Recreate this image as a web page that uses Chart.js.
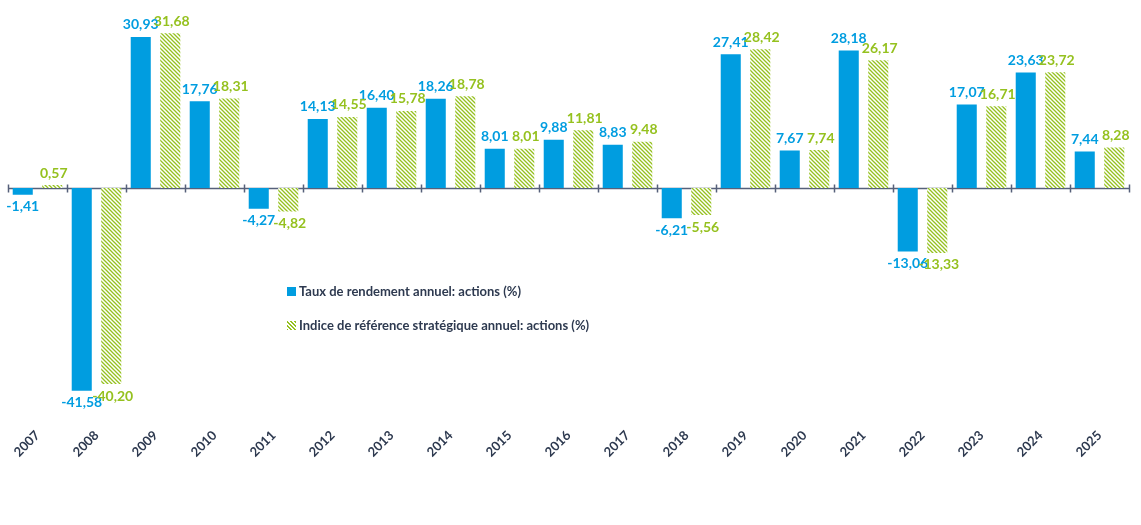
<!DOCTYPE html>
<html>
<head>
<meta charset="utf-8">
<script src="https://cdn.jsdelivr.net/npm/chart.js@4.4.1/dist/chart.umd.min.js"></script>
<style>
  html, body { margin: 0; padding: 0; background: #ffffff; }
  #wrap { position: relative; width: 1141px; height: 525px; }
  #legend { position: absolute; left: 287px; top: 280px; font-family: Lato, "Open Sans", sans-serif; font-weight: 700; font-size: 13px; color: #2e3a50; }
  .item { display: flex; align-items: center; height: 22px; margin-bottom: 12px; white-space: nowrap; }
  .mark { width: 9px; height: 9px; margin-right: 3px; display: inline-block; }
</style>
</head>
<body>
<div id="wrap">
  <canvas id="c" width="1141" height="525"></canvas>
  <div id="legend"></div>
</div>
<script>
const years = ['2007','2008','2009','2010','2011','2012','2013','2014','2015','2016','2017','2018','2019','2020','2021','2022','2023','2024','2025'];
const rendement = [-1.41,-41.58,30.93,17.76,-4.27,14.13,16.40,18.26,8.01,9.88,8.83,-6.21,27.41,7.67,28.18,-13.06,17.07,23.63,7.44];
const indice = [0.57,-40.20,31.68,18.31,-4.82,14.55,15.78,18.78,8.01,11.81,9.48,-5.56,28.42,7.74,26.17,-13.33,16.71,23.72,8.28];
const seriesNames = ['Taux de rendement annuel: actions (%)', 'Indice de référence stratégique annuel: actions (%)'];

const BLUE = '#009de0';
const GREEN = '#95c11f';
const NAVY = '#2e3a50';
const AXIS = '#56607a';

function makeHatch() {
  const s = 4;
  const p = document.createElement('canvas');
  p.width = s; p.height = s;
  const g = p.getContext('2d');
  g.fillStyle = '#ffffff';
  g.fillRect(0, 0, s, s);
  g.strokeStyle = GREEN;
  g.lineWidth = 1.3;
  g.beginPath();
  g.moveTo(-1, -1); g.lineTo(s + 1, s + 1);
  g.moveTo(-1, s - 1); g.lineTo(1, s + 1);
  g.moveTo(s - 1, -1); g.lineTo(s + 1, 1);
  g.stroke();
  return document.getElementById('c').getContext('2d').createPattern(p, 'repeat');
}
const hatch = makeHatch();

const zeroAxis = {
  id: 'zeroAxis',
  beforeDatasetsDraw(chart) {
    const ctx = chart.ctx, x = chart.scales.x, y = chart.scales.y;
    const y0 = Math.round(y.getPixelForValue(0)) + 0.5;
    const half = (x.getPixelForValue(1) - x.getPixelForValue(0)) / 2;
    ctx.save();
    ctx.strokeStyle = AXIS;
    ctx.lineWidth = 1.5;
    ctx.beginPath();
    ctx.moveTo(chart.chartArea.left, y0);
    ctx.lineTo(chart.chartArea.right, y0);
    for (let i = 0; i <= years.length; i++) {
      const xx = Math.round(x.getPixelForValue(i) - half) + 0.5;
      ctx.moveTo(xx, y0 - 4);
      ctx.lineTo(xx, y0 + 4);
    }
    ctx.stroke();
    ctx.restore();
  }
};

const valueLabels = {
  id: 'valueLabels',
  afterDatasetsDraw(chart) {
    const ctx = chart.ctx;
    ctx.save();
    ctx.font = '700 14px Lato, "Open Sans", sans-serif';
    ctx.textAlign = 'center';
    chart.data.datasets.forEach((ds, di) => {
      const meta = chart.getDatasetMeta(di);
      ctx.fillStyle = di === 0 ? BLUE : GREEN;
      meta.data.forEach((el, i) => {
        const v = ds.data[i];
        const txt = v.toFixed(2).replace('.', ',');
        if (v >= 0) { ctx.textBaseline = 'bottom'; ctx.fillText(txt, el.x + di * 1.5, el.y - 5); }
        else { ctx.textBaseline = 'top'; ctx.fillText(txt, el.x + di * 1.5, el.y + 5); }
      });
    });
    ctx.restore();
  }
};

new Chart(document.getElementById('c'), {
  type: 'bar',
  data: {
    labels: years,
    datasets: [
      { label: seriesNames[0], data: rendement, backgroundColor: BLUE, barPercentage: 0.68, categoryPercentage: 1.0 },
      { label: seriesNames[1], data: indice, backgroundColor: hatch, barPercentage: 0.68, categoryPercentage: 1.0 }
    ]
  },
  options: {
    responsive: false,
    animation: false,
    devicePixelRatio: 1,
    layout: { padding: { left: 8, right: 12, top: 22, bottom: 57 } },
    plugins: { legend: { display: false }, tooltip: { enabled: false } },
    scales: {
      y: { display: false, min: -47.5, max: 34 },
      x: {
        grid: { display: false, drawTicks: false },
        border: { display: false },
        ticks: {
          color: NAVY,
          font: { family: 'Lato, "Open Sans", sans-serif', weight: '700', size: 13 },
          maxRotation: 45, minRotation: 45, autoSkip: false, padding: 8
        }
      }
    }
  },
  plugins: [zeroAxis, valueLabels]
});

const leg = document.getElementById('legend');
seriesNames.forEach((n, i) => {
  const d = document.createElement('div');
  d.className = 'item';
  const m = document.createElement('span');
  m.className = 'mark';
  m.style.background = i === 0 ? BLUE : 'repeating-linear-gradient(45deg, ' + GREEN + ' 0 1.2px, #ffffff 1.2px 2.8px)';
  const t = document.createElement('span');
  t.textContent = n;
  d.appendChild(m); d.appendChild(t);
  leg.appendChild(d);
});
</script>
</body>
</html>
